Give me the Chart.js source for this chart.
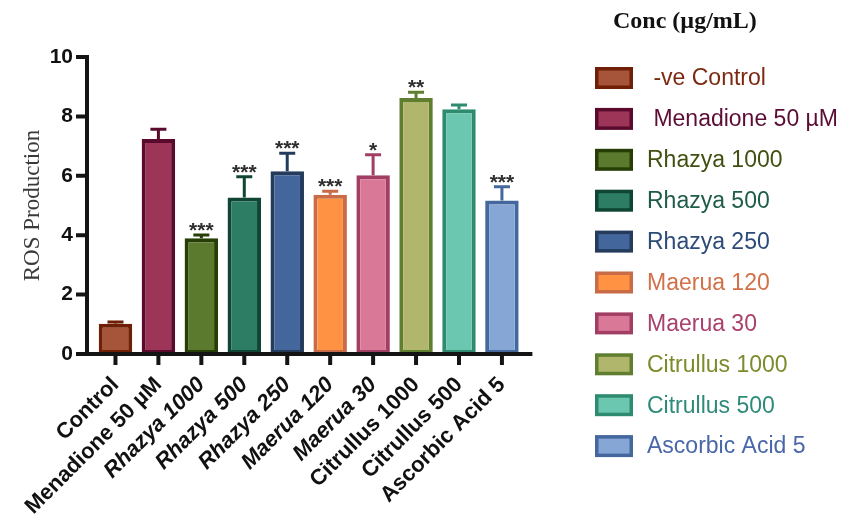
<!DOCTYPE html>
<html>
<head>
<meta charset="utf-8">
<script src="https://cdn.jsdelivr.net/npm/chart.js@4/dist/chart.umd.min.js"></script>
<style>
  html, body { margin: 0; padding: 0; background: #ffffff; }
  #wrap { width: 843px; height: 518px; position: relative; }
</style>
</head>
<body>
<div id="wrap"><canvas id="c"></canvas></div>
<script>
// Treatments on the x axis
const categories = ['Control', 'Menadione 50 µM', 'Rhazya 1000', 'Rhazya 500', 'Rhazya 250',
  'Maerua 120', 'Maerua 30', 'Citrullus 1000', 'Citrullus 500', 'Ascorbic Acid 5'];
const italicLabels = [false, false, true, true, true, true, true, false, false, false];

// ROS production: mean and upper error (SEM)
const rosMeans  = [1.02, 7.24, 3.90, 5.27, 6.15, 5.36, 6.02, 8.62, 8.24, 5.17];
const rosErrors = [0.06, 0.33, 0.11, 0.70, 0.61, 0.12, 0.69, 0.19, 0.14, 0.46];
const significance = ['', '', '***', '***', '***', '***', '*', '**', '', '***'];

// Bar colours
const fillColors = ['#a6553b', '#9d3559', '#5b7a2e', '#2d7d64', '#43679c',
  '#ff9343', '#d97997', '#b0b66b', '#6cc7b1', '#86a6d6'];
const edgeColors = ['#6e1f05', '#5a0a2c', '#263e06', '#0f4534', '#243b5c',
  '#c96b47', '#a23e63', '#5f7e2f', '#2e8b6f', '#44679e'];

// Legend
const legendTitle = 'Conc (µg/mL)';
const legendLabels = [' -ve Control', ' Menadione 50 µM', 'Rhazya 1000', 'Rhazya 500', 'Rhazya 250',
  'Maerua 120', 'Maerua 30', 'Citrullus 1000', 'Citrullus 500', 'Ascorbic Acid 5'];
const legendTextColors = ['#7b2a10', '#5c0d35', '#3f5010', '#1f5b49', '#2c4b77',
  '#d27149', '#a8416b', '#7c8b2b', '#2f8b79', '#4967a9'];

const yTickValues = [0, 2, 4, 6, 8, 10];
const axisTitle = 'ROS Production';

const AXIS_COLOR = '#141414';

// Error bars and significance stars above each bar
const errorBarPlugin = {
  id: 'errorBars',
  afterDatasetsDraw(chart) {
    const { ctx, scales: { y } } = chart;
    const meta = chart.getDatasetMeta(0);
    ctx.save();
    meta.data.forEach((bar, i) => {
      const top = y.getPixelForValue(rosMeans[i]);
      const capY = y.getPixelForValue(rosMeans[i] + rosErrors[i]);
      ctx.strokeStyle = edgeColors[i];
      ctx.lineWidth = 3;
      ctx.beginPath();
      ctx.moveTo(bar.x, top);
      ctx.lineTo(bar.x, capY);
      ctx.moveTo(bar.x - 8, capY);
      ctx.lineTo(bar.x + 8, capY);
      ctx.stroke();
      if (significance[i]) {
        ctx.fillStyle = '#2e2e2e';
        ctx.font = 'bold 21px "Liberation Sans", Arial, sans-serif';
        ctx.textAlign = 'center';
        ctx.textBaseline = 'alphabetic';
        ctx.fillText(significance[i], bar.x, capY + 2);
      }
    });
    ctx.restore();
  }
};

// Heavy axis lines with outward tick marks
const axesPlugin = {
  id: 'heavyAxes',
  afterDraw(chart) {
    const { ctx, chartArea, scales: { x, y } } = chart;
    const axisX = chartArea.left - 7;
    const y0 = y.getPixelForValue(0);
    const yTop = y.getPixelForValue(10);
    ctx.save();
    ctx.strokeStyle = AXIS_COLOR;
    ctx.lineWidth = 4;
    ctx.lineCap = 'butt';
    ctx.beginPath();
    ctx.moveTo(axisX, yTop - 2);
    ctx.lineTo(axisX, y0 + 2);
    ctx.moveTo(axisX - 2, y0);
    ctx.lineTo(chartArea.right + 9, y0);
    yTickValues.forEach(v => {
      const py = y.getPixelForValue(v);
      ctx.moveTo(axisX - 11, py);
      ctx.lineTo(axisX, py);
    });
    categories.forEach((c, i) => {
      const px = x.getPixelForValue(i);
      ctx.moveTo(px, y0);
      ctx.lineTo(px, y0 + 11);
    });
    ctx.stroke();
    ctx.restore();
  }
};

// Legend column on the right
const legendPlugin = {
  id: 'sideLegend',
  afterDraw(chart) {
    const { ctx } = chart;
    ctx.save();
    ctx.fillStyle = '#111111';
    ctx.font = 'bold 24px "Liberation Serif", "Times New Roman", serif';
    ctx.textAlign = 'left';
    ctx.textBaseline = 'middle';
    ctx.fillText(legendTitle, 613, 22);
    legendLabels.forEach((label, i) => {
      const cy = 78 + i * 40.9;
      ctx.fillStyle = edgeColors[i];
      ctx.fillRect(595, cy - 11, 38, 22);
      ctx.fillStyle = fillColors[i];
      ctx.fillRect(598.5, cy - 7.5, 31, 15);
      ctx.fillStyle = legendTextColors[i];
      ctx.font = '23px "Liberation Sans", Arial, sans-serif';
      ctx.fillText(label, 647, cy + 1);
    });
    ctx.restore();
  }
};

new Chart(document.getElementById('c'), {
  type: 'bar',
  data: {
    labels: categories,
    datasets: [{
      data: rosMeans,
      backgroundColor: fillColors,
      borderColor: edgeColors,
      borderWidth: 4,
      borderSkipped: false,
      categoryPercentage: 1,
      barPercentage: 0.78
    }]
  },
  options: {
    responsive: true,
    maintainAspectRatio: false,
    animation: false,
    devicePixelRatio: 1,
    layout: { padding: { top: 57, right: 319.6, bottom: 0, left: 0 } },
    plugins: {
      legend: { display: false },
      tooltip: { enabled: false }
    },
    scales: {
      x: {
        grid: { display: false, drawTicks: false },
        border: { display: false },
        afterFit(scale) { scale.height = 164; },
        ticks: {
          autoSkip: false,
          minRotation: 45,
          maxRotation: 45,
          padding: 18,
          color: '#111111',
          font: ctx => ({
            family: '"Liberation Sans", Arial, sans-serif',
            size: 22,
            weight: 'bold',
            style: italicLabels[ctx.index] ? 'italic' : 'normal'
          })
        }
      },
      y: {
        min: 0,
        max: 10,
        grid: { display: false, drawTicks: false },
        border: { display: false },
        afterFit(scale) { scale.width = 94; },
        afterBuildTicks(scale) { scale.ticks = yTickValues.map(v => ({ value: v })); },
        ticks: {
          padding: 21,
          color: '#111111',
          font: { family: '"Liberation Sans", Arial, sans-serif', size: 21, weight: 'bold' }
        },
        title: {
          display: true,
          text: axisTitle,
          color: '#3a3a3a',
          padding: { top: 19, bottom: 0 },
          font: { family: '"Liberation Serif", "Times New Roman", serif', size: 23, weight: 'normal' }
        }
      }
    }
  },
  plugins: [errorBarPlugin, axesPlugin, legendPlugin]
});
</script>
</body>
</html>
